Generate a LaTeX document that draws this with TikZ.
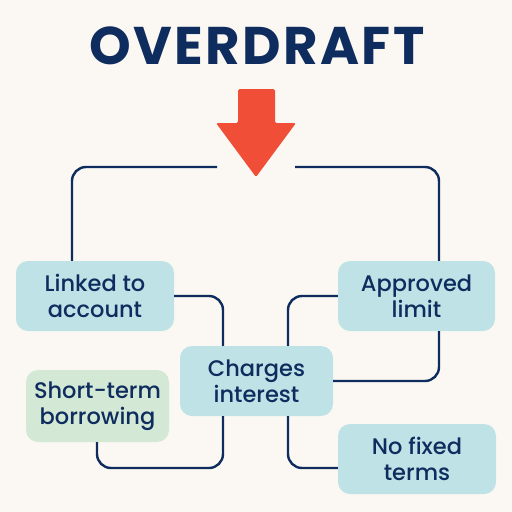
\documentclass[tikz,border=0pt]{standalone}
\usepackage{fontspec}
\setmainfont{Poppins}
\newfontfamily\medfont{Poppins Medium}
\definecolor{bg}{HTML}{FBF8F3}
\definecolor{navy}{HTML}{0F2C5E}
\definecolor{boxc}{HTML}{BEE2E5}
\definecolor{boxg}{HTML}{D3E8D5}
\definecolor{arr}{HTML}{F14E38}
\begin{document}
\begin{tikzpicture}[x=1pt,y=-1pt,
  conn/.style={draw=navy,line width=2.4pt,rounded corners=14pt},
  bx/.style={fill=boxc,rounded corners=12pt,text=navy,align=center,
    font=\medfont\fontsize{22.5}{26}\selectfont,inner sep=0pt},
  gbx/.style={bx,fill=boxg}]
\fill[bg] (0,0) rectangle (512,512);
\useasboundingbox (0,0) rectangle (512,512);
\node[text=navy,font=\fontsize{53}{55}\selectfont\bfseries\addfontfeature{LetterSpace=4.5}] (title) at (257,46) {OVERDRAFT};
\fill[arr,rounded corners=1.5pt] (238,89) -- (275,89) -- (275,123) -- (296,123) -- (256,177) -- (216,123) -- (238,123) -- cycle;
\node[bx,minimum width=158pt,minimum height=70pt] (linked) at (95,296) {Linked to\\account};
\node[bx,minimum width=157pt,minimum height=70pt] (approved) at (416.5,296) {Approved\\limit};
\node[bx,minimum width=153pt,minimum height=70pt] (charges) at (256.5,381) {Charges\\interest};
\node[gbx,minimum width=143pt,minimum height=72pt] (short) at (97.5,406) {Short-term\\borrowing};
\node[bx,minimum width=158pt,minimum height=70pt] (nofixed) at (417,459) {No fixed\\terms};
\coordinate (tl) at (217,167);
\coordinate (tr) at (295,167);
\draw[conn] (tl) -| ([xshift=-23pt]linked.north);
\draw[conn] (tr) -| ([xshift=22.5pt]approved.north);
\draw[conn] (linked.east) -| ([xshift=-33.5pt]charges.north);
\draw[conn] (approved.west) -| ([xshift=31.5pt]charges.north);
\draw[conn] ([xshift=22.5pt]approved.south) |- (charges.east);
\draw[conn] ([xshift=-0.5pt]short.south) |- (160,468) -| ([xshift=-33.5pt]charges.south);
\draw[conn] ([xshift=31.5pt]charges.south) |- ([yshift=-9pt]nofixed.west);
\end{tikzpicture}
\end{document}
